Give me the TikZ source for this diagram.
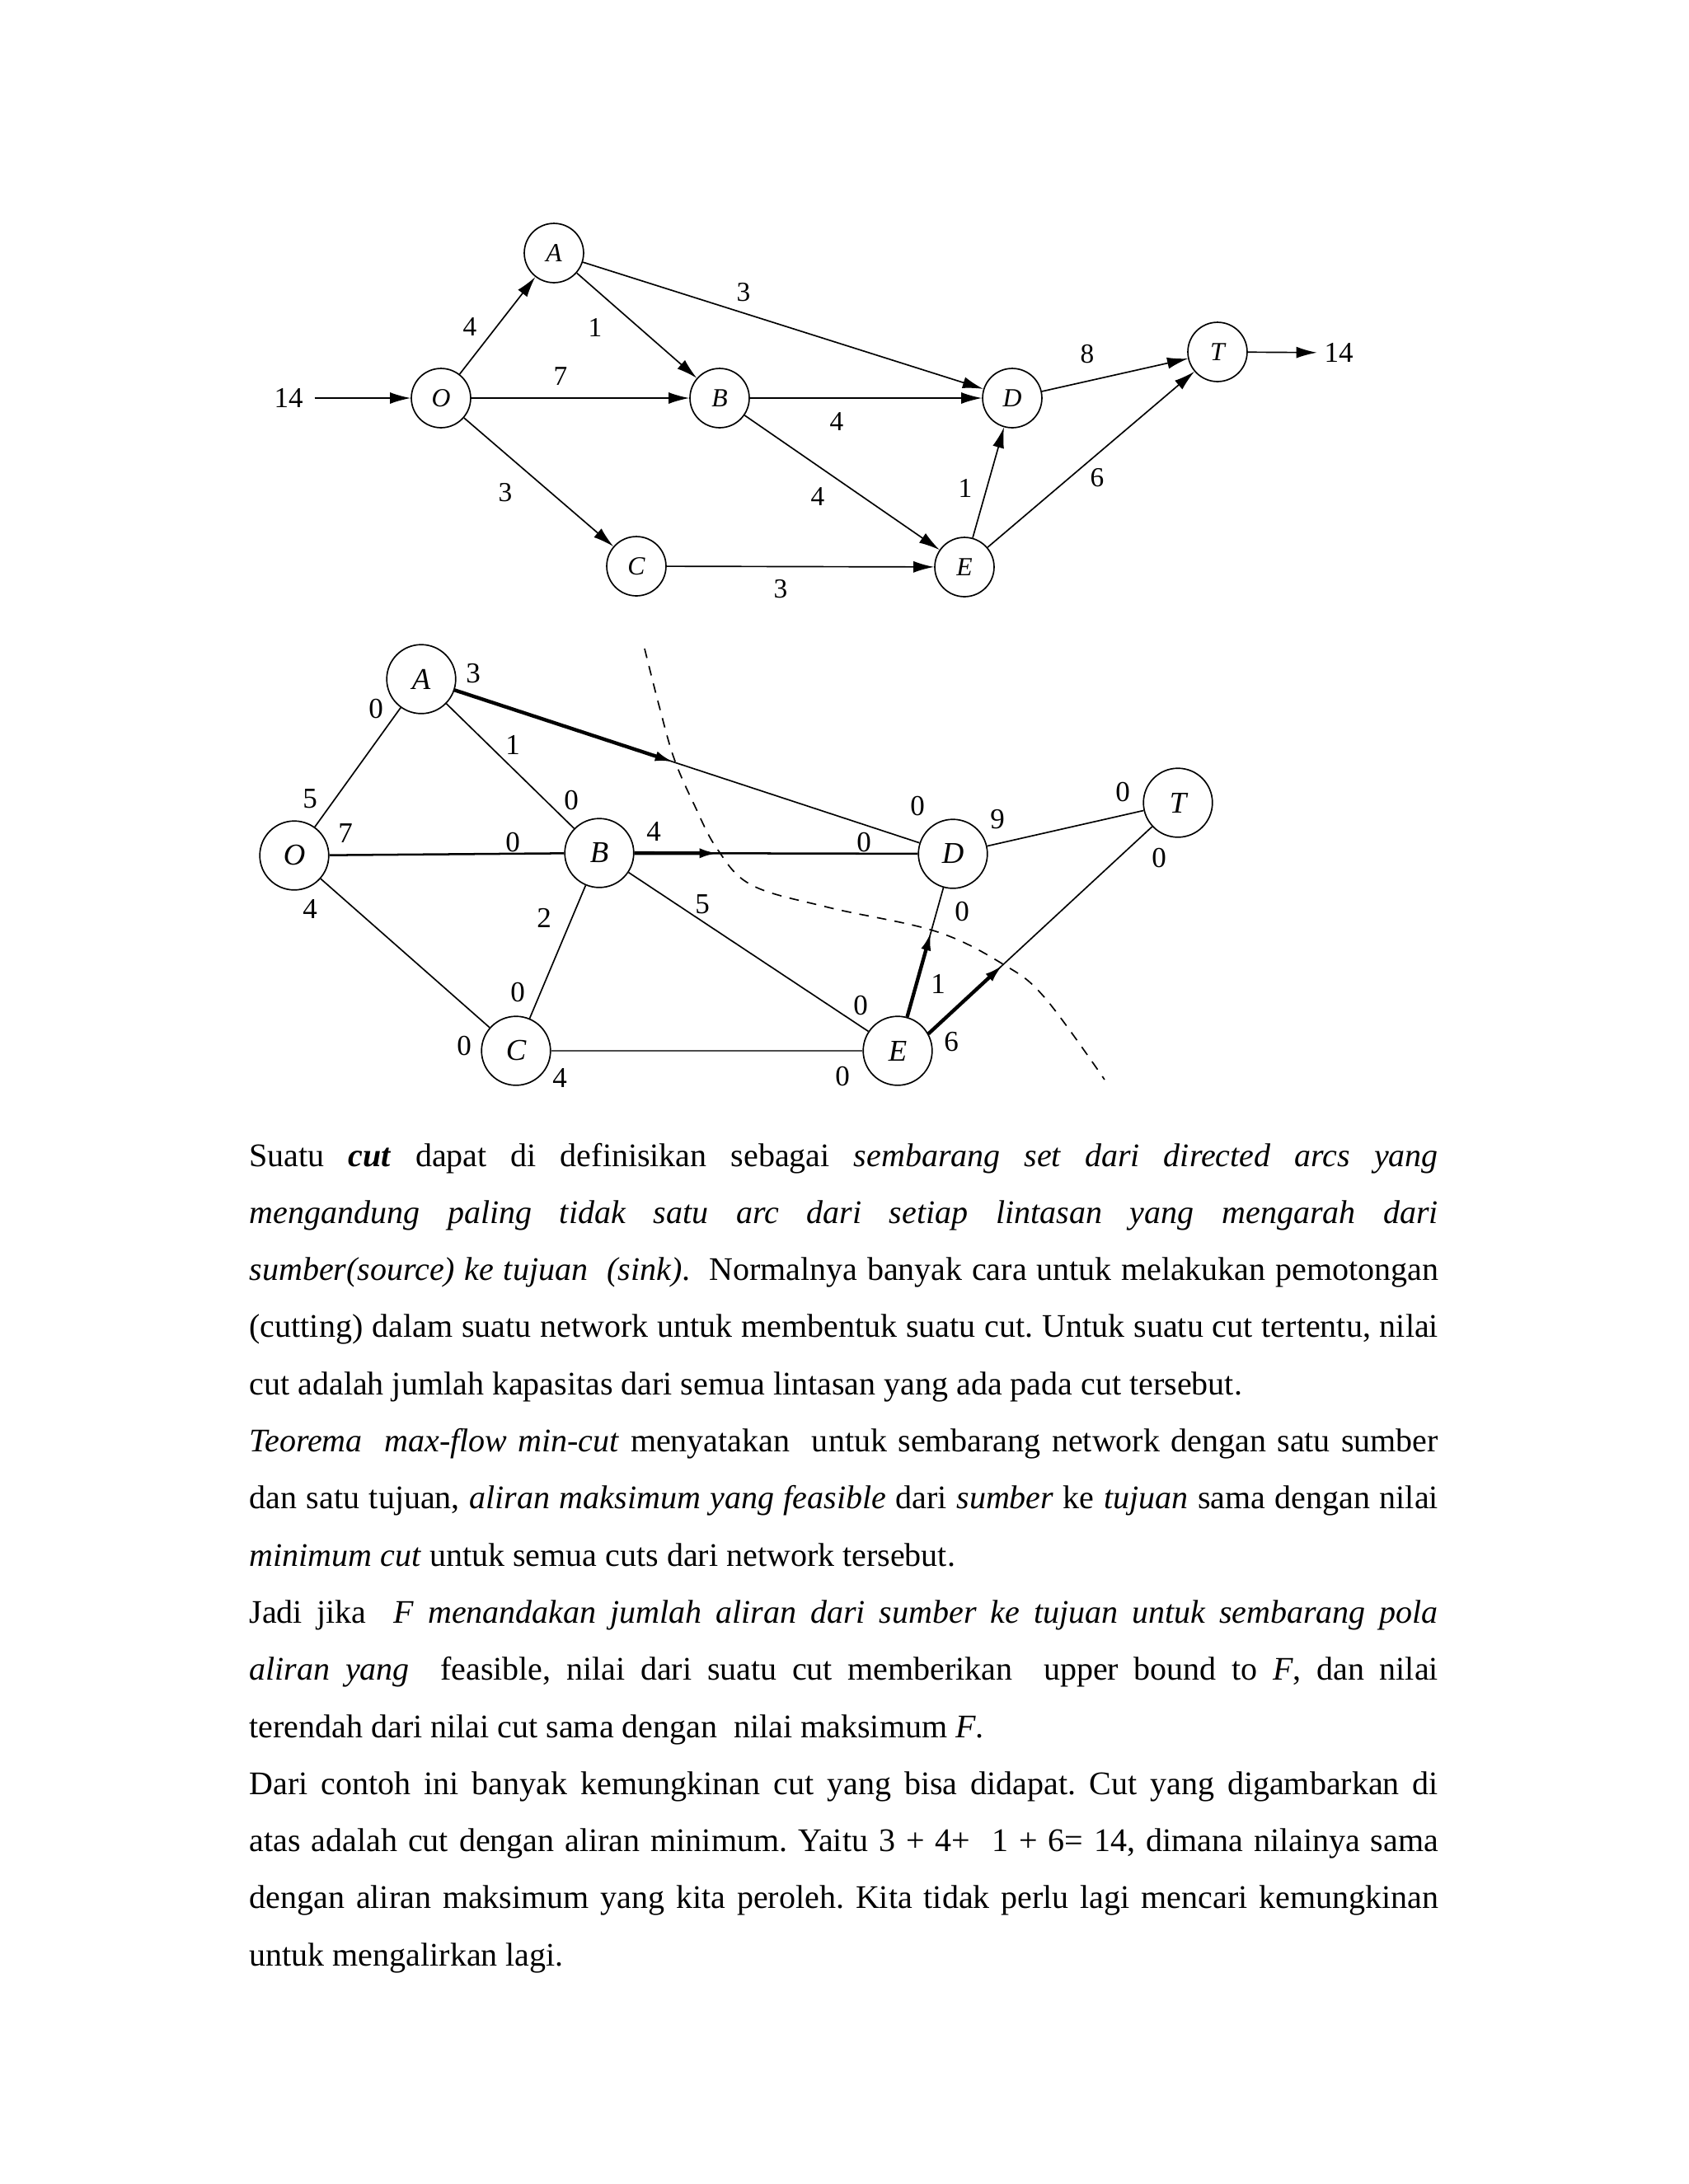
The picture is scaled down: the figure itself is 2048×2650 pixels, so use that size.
\documentclass[tikz,border=0pt]{standalone}
\usepackage{fontspec}
\setmainfont{Liberation Serif}
\usetikzlibrary{arrows.meta,calc}
\newlength\tw
\setlength\tw{431bp}
\frenchspacing
\begin{document}
\begin{tikzpicture}[x=0.29885bp,y=-0.29885bp,
  every node/.style={inner sep=0pt},
  tnode/.style={circle,draw,line width=0.5bp,minimum size=21.5bp,font=\fontsize{9.5}{10}\selectfont\itshape},
  bnode/.style={circle,draw,line width=0.5bp,minimum size=25bp,font=\fontsize{11}{12}\selectfont\itshape},
  tlab/.style={font=\fontsize{10}{11}\selectfont},
  blab/.style={font=\fontsize{10.5}{11}\selectfont},
  tedge/.style={line width=0.5bp,-{Latex[length=7.5bp,width=4.2bp]}},
  bedge/.style={line width=0.5bp},
  flow/.style={line width=1.3bp,-{Latex[length=7bp,width=3.6bp]}},
  cutline/.style={line width=0.5bp,dash pattern=on 3.5bp off 3bp},
  txt/.style={anchor=base west,inner sep=0pt,font=\fontsize{12}{14}\selectfont}
]
\useasboundingbox (0,0) rectangle (2048,2650);
\fill[white] (0,0) rectangle (2048,2650);

% ---------- top network ----------
\node[tnode] (tA) at (672,307) {A};
\node[tnode] (tO) at (535,483) {O};
\node[tnode] (tB) at (873,483) {B};
\node[tnode] (tC) at (772,687) {C};
\node[tnode] (tD) at (1228,483) {D};
\node[tnode] (tE) at (1170,688) {E};
\node[tnode] (tT) at (1477,427) {T};
\node[tlab,font=\fontsize{10.5}{11}\selectfont] (in14) at (350,483) {14};
\node[tlab,font=\fontsize{10.5}{11}\selectfont,anchor=west] (out14) at (1606,428) {14};

\draw[tedge,shorten <=4bp] (in14) -- (tO);
\draw[tedge,shorten >=2.5bp] (tT) -- (out14);
\draw[tedge] (tO) -- (tA);
\draw[tedge] (tO) -- (tB);
\draw[tedge] (tO) -- (tC);
\draw[tedge] (tA) -- (tB);
\draw[tedge] (tA) -- (tD);
\draw[tedge] (tB) -- (tD);
\draw[tedge] (tB) -- (tE);
\draw[tedge] (tC) -- (tE);
\draw[tedge] (tE) -- (tD);
\draw[tedge] (tE) -- (tT);
\draw[tedge] (tD) -- (tT);

\node[tlab] (tl1) at (570,397) {4};
\node[tlab] (tl2) at (722,397) {1};
\node[tlab] (tl3) at (902,355) {3};
\node[tlab] (tl4) at (680,457) {7};
\node[tlab] (tl5) at (1015,512) {4};
\node[tlab] (tl6) at (613,598) {3};
\node[tlab] (tl7) at (992,603) {4};
\node[tlab] (tl8) at (947,715) {3};
\node[tlab] (tl9) at (1171,592) {1};
\node[tlab] (tl10) at (1319,430) {8};
\node[tlab] (tl11) at (1331,580) {6};

% ---------- bottom network ----------
\node[bnode] (bA) at (511,824) {A};
\node[bnode] (bO) at (357,1038) {O};
\node[bnode] (bB) at (727,1035) {B};
\node[bnode] (bC) at (626,1275) {C};
\node[bnode] (bD) at (1156,1036) {D};
\node[bnode] (bE) at (1089,1275) {E};
\node[bnode] (bT) at (1429,974) {T};

\draw[bedge] (bO) -- (bA);
\draw[bedge] (bA) -- (bB);
\draw[bedge,line width=0.75bp] (bO) -- (bB);
\draw[bedge] (bO) -- (bC);
\draw[bedge] (bB) -- (bC);
\draw[bedge] (bB) -- (bE);
\draw[bedge,line width=0.8bp,black!70] (bC) -- (bE);
\draw[bedge] (bA) -- (bD);
\draw[bedge,line width=0.75bp] (bB) -- (bD);
\draw[bedge] (bE) -- (bD);
\draw[bedge] (bE.29) -- (bT);
\draw[bedge] (bD) -- (bT);

\draw[flow] (bA) -- ($(bA)!0.476!(bD)$);
\draw[flow] (bB) -- ($(bB)!0.338!(bD)$);
\draw[flow] (bE) -- ($(bE)!0.607!(bD)$);
\draw[flow] (bE.29) -- ($(bE.29)!0.30!(bT)$);

\draw[cutline] plot[smooth,tension=0.6] coordinates {(782,787) (800,858) (818,921) (842,976) (870,1030) (912,1074) (1005,1101) (1135,1130) (1217,1170) (1267,1210) (1340,1310)};

\node[blab] (bl1) at (574,817) {3};
\node[blab] (bl2) at (456,860) {0};
\node[blab] (bl3) at (622,904) {1};
\node[blab] (bl4) at (376,969) {5};
\node[blab] (bl5) at (419,1011) {7};
\node[blab] (bl6) at (622,1022) {0};
\node[blab] (bl7) at (693,971) {0};
\node[blab] (bl8) at (793,1009) {4};
\node[blab] (bl9) at (1048,1022) {0};
\node[blab] (bl10) at (1113,978) {0};
\node[blab] (bl11) at (1210,994) {9};
\node[blab] (bl12) at (1362,961) {0};
\node[blab] (bl13) at (1406,1041) {0};
\node[blab] (bl14) at (376,1103) {4};
\node[blab] (bl15) at (660,1114) {2};
\node[blab] (bl16) at (852,1097) {5};
\node[blab] (bl17) at (1167,1106) {0};
\node[blab] (bl18) at (1138,1194) {1};
\node[blab] (bl19) at (628,1204) {0};
\node[blab] (bl20) at (563,1269) {0};
\node[blab] (bl21) at (679,1308) {4};
\node[blab] (bl22) at (1044,1220) {0};
\node[blab] (bl23) at (1022,1306) {0};
\node[blab] (bl24) at (1154,1264) {6};

% ---------- text ----------
\node[txt] (p1) at (302,1415) {\hbox to \tw{Suatu \textbf{\textit{cut}} dapat di definisikan sebagai \textit{sembarang set dari directed arcs yang}}};
\node[txt] (p2) at (302,1484.3) {\hbox to \tw{\textit{mengandung paling tidak satu arc dari setiap lintasan yang mengarah dari}}};
\node[txt] (p3) at (302,1553.6) {\hbox to \tw{\textit{sumber(source) ke tujuan\ \ (sink)}.\ \ Normalnya banyak cara untuk melakukan pemotongan}};
\node[txt] (p4) at (302,1622.9) {\hbox to \tw{(cutting) dalam suatu network untuk membentuk suatu cut. Untuk suatu cut tertentu, nilai}};
\node[txt] (p5) at (302,1692.2) {cut adalah jumlah kapasitas dari semua lintasan yang ada pada cut tersebut.};
\node[txt] (p6) at (302,1761.5) {\hbox to \tw{\textit{Teorema\ \ max-flow min-cut} menyatakan\ \ untuk sembarang network dengan satu sumber}};
\node[txt] (p7) at (302,1830.8) {\hbox to \tw{dan satu tujuan, \textit{aliran maksimum yang feasible} dari \textit{sumber} ke \textit{tujuan} sama dengan nilai}};
\node[txt] (p8) at (302,1900.1) {\textit{minimum cut} untuk semua cuts dari network tersebut.};
\node[txt] (p9) at (302,1969.4) {\hbox to \tw{Jadi jika\ \ \textit{F menandakan jumlah aliran dari sumber ke tujuan untuk sembarang pola}}};
\node[txt] (p10) at (302,2038.7) {\hbox to \tw{\textit{aliran yang}\ \ feasible, nilai dari suatu cut memberikan\ \ upper bound to \textit{F}, dan nilai}};
\node[txt] (p11) at (302,2108) {terendah dari nilai cut sama dengan\ \ nilai maksimum \textit{F}.};
\node[txt] (p12) at (302,2177.3) {\hbox to \tw{Dari contoh ini banyak kemungkinan cut yang bisa didapat. Cut yang digambarkan di}};
\node[txt] (p13) at (302,2246.6) {\hbox to \tw{atas adalah cut dengan aliran minimum. Yaitu 3 + 4+\ \ 1 + 6= 14, dimana nilainya sama}};
\node[txt] (p14) at (302,2315.9) {\hbox to \tw{dengan aliran maksimum yang kita peroleh. Kita tidak perlu lagi mencari kemungkinan}};
\node[txt] (p15) at (302,2385.2) {untuk mengalirkan lagi.};
\end{tikzpicture}
\end{document}
